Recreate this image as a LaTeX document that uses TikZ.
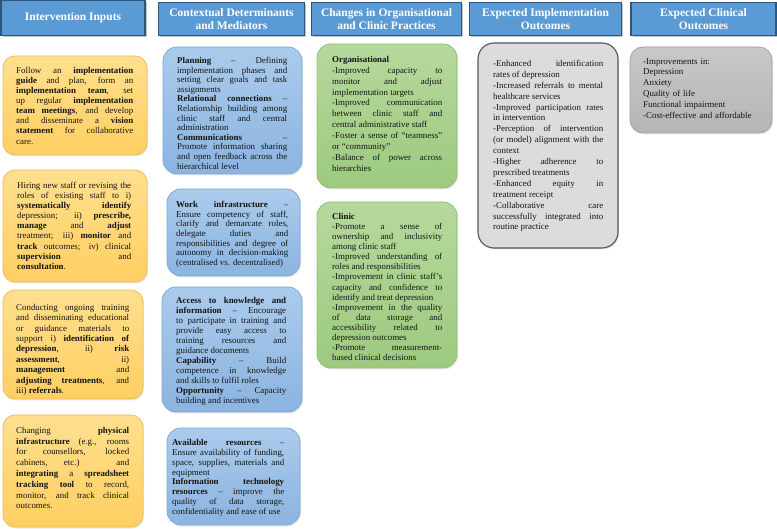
\documentclass[tikz,border=0pt]{standalone}
\usepackage{fontspec}
\setmainfont{Liberation Serif}
\usetikzlibrary{fit,shadows}
\setlength{\parindent}{0pt}
\definecolor{hdrfill}{HTML}{5B9BD5}
\definecolor{hdrborder}{HTML}{2C5680}
\definecolor{otop}{HTML}{FFDF8E}
\definecolor{obot}{HTML}{FFCF62}
\definecolor{oborder}{HTML}{F4BC55}
\definecolor{btop}{HTML}{ABCBEC}
\definecolor{bbot}{HTML}{8BB4E0}
\definecolor{bborder}{HTML}{80A9D6}
\definecolor{gtop}{HTML}{B6D99D}
\definecolor{gbot}{HTML}{9DCA7F}
\definecolor{gborder}{HTML}{8CBF74}
\definecolor{grayfill}{HTML}{DCDCDC}
\definecolor{grayborder}{HTML}{555555}
\definecolor{gtop5}{HTML}{C8C8C8}
\definecolor{gbot5}{HTML}{B5B5B5}
\definecolor{gborder5}{HTML}{A2A2A2}
\definecolor{txtc}{HTML}{141414}
\tikzset{
  x=1pt, y=-1pt,
  hdr/.style={draw=hdrborder, fill=hdrfill, line width=1.2pt, text=white,
    font=\fontsize{11.5}{13.5}\selectfont\bfseries, align=center, inner sep=0pt,
    drop shadow={shadow xshift=1.5pt, shadow yshift=-1.5pt, opacity=0.45}},
  boxbase/.style={inner sep=0pt, line width=0.8pt,
    drop shadow={shadow xshift=1.2pt, shadow yshift=-1.5pt, opacity=0.18}},
  obox/.style={boxbase, rounded corners=12pt, draw=oborder, top color=otop, bottom color=obot},
  bbox/.style={boxbase, rounded corners=14pt, draw=bborder, top color=btop, bottom color=bbot},
  gbox/.style={boxbase, rounded corners=14pt, draw=gborder, top color=gtop, bottom color=gbot},
  graybox/.style={boxbase, rounded corners=16pt, draw=grayborder, line width=1.1pt, fill=grayfill},
  graybox5/.style={boxbase, rounded corners=13pt, draw=gborder5, top color=gtop5, bottom color=gbot5},
  txt/.style={anchor=north west, inner sep=0pt, text width=#1, align=justify, text=txtc},
  body/.style={font=\fontsize{8.9}{#1}\selectfont},
}
\begin{document}
\begin{tikzpicture}
\useasboundingbox (0,0) rectangle (777,529);
\fill[white] (0,0) rectangle (777,529);

% headers
\node[hdr, minimum width=144pt, minimum height=35pt] (h1) at (73,18) {\raisebox{3pt}{Intervention Inputs}};
\node[hdr, minimum width=146pt, minimum height=33pt] (h2) at (231.5,19) {Contextual Determinants\\and Mediators};
\node[hdr, minimum width=150pt, minimum height=33pt] (h3) at (386.5,19) {Changes in Organisational\\and Clinic Practices};
\node[hdr, minimum width=152pt, minimum height=33pt] (h4) at (545.5,19) {Expected Implementation\\Outcomes};
\node[hdr, minimum width=145pt, minimum height=33pt] (h5) at (703.5,19) {Expected Clinical\\Outcomes};

% column 1
\node[obox, fit={(3,56) (147,155)}] (b1a) {};
\node[obox, fit={(3,170) (147,282)}] (b1b) {};
\node[obox, fit={(3,290) (143,399)}] (b1c) {};
\node[obox, fit={(3,415) (143,527)}] (b1d) {};

\node[txt=117pt, body=10.1] (t1a) at (16,67) {Follow an \textbf{implementation}\linebreak
\textbf{guide} and plan, form an\linebreak
\textbf{implementation team}, set\linebreak
up regular \textbf{implementation}\linebreak
\textbf{team meetings}, and develop\linebreak
and disseminate a \textbf{vision}\linebreak
\textbf{statement} for collaborative\linebreak
care.};

\node[txt=114pt, body=10.1] (t1b) at (17,182) {Hiring new staff or revising the\linebreak
roles of existing staff to i)\linebreak
\textbf{systematically identify}\linebreak
depression; ii) \textbf{prescribe,}\linebreak
\textbf{manage} and \textbf{adjust}\linebreak
treatment; iii) \textbf{monitor} and\linebreak
\textbf{track} outcomes; iv) clinical\linebreak
\textbf{supervision} and\linebreak
\textbf{consultation}.};

\node[txt=113pt, body=10.4] (t1c) at (16,304) {Conducting ongoing training\linebreak
and disseminating educational\linebreak
or guidance materials to\linebreak
support i) \textbf{identification of}\linebreak
\textbf{depression}, ii) \textbf{risk}\linebreak
\textbf{assessment}, ii)\linebreak
\textbf{management} and\linebreak
\textbf{adjusting treatments}, and\linebreak
iii) \textbf{referrals}.};

\node[txt=113pt, body=10.8] (t1d) at (16,427) {Changing \textbf{physical}\linebreak
\textbf{infrastructure} (e.g., rooms\linebreak
for counsellors, locked\linebreak
cabinets, etc.) and\linebreak
\textbf{integrating} a \textbf{spreadsheet}\linebreak
\textbf{tracking tool} to record,\linebreak
monitor, and track clinical\linebreak
outcomes.};

% column 2
\node[bbox, fit={(163,47) (302,174)}] (b2a) {};
\node[bbox, fit={(167,189) (300,276)}] (b2b) {};
\node[bbox, fit={(162,287) (302,412)}] (b2c) {};
\node[bbox, fit={(167,428) (300,525)}] (b2d) {};

\node[txt=110pt, body=9.6] (t2a) at (177,57) {\textbf{Planning} – Defining\linebreak
implementation phases and\linebreak
setting clear goals and task\linebreak
assignments\par
\textbf{Relational connections} –\linebreak
Relationship building among\linebreak
clinic staff and central\linebreak
administration\par
\textbf{Communications} –\linebreak
Promote information sharing\linebreak
and open feedback across the\linebreak
hierarchical level};

\node[txt=112pt, body=9.7] (t2b) at (176,201) {\textbf{Work infrastructure} –\linebreak
Ensure competency of staff,\linebreak
clarify and demarcate roles,\linebreak
delegate duties and\linebreak
responsibilities and degree of\linebreak
autonomy in decision-making\linebreak
(centralised vs. decentralised)};

\node[txt=110pt, body=10] (t2c) at (176,297) {\textbf{Access to knowledge and}\linebreak
\textbf{information} – Encourage\linebreak
to participate in training and\linebreak
provide easy access to\linebreak
training resources and\linebreak
guidance documents\par
\textbf{Capability} – Build\linebreak
competence in knowledge\linebreak
and skills to fulfil roles\par
\textbf{Opportunity} – Capacity\linebreak
building and incentives};

\node[txt=112pt, body=9.9] (t2d) at (172,439) {\textbf{Available resources} –\linebreak
Ensure availability of funding,\linebreak
space, supplies, materials and\linebreak
equipment\par
\textbf{Information technology}\linebreak
\textbf{resources} – improve the\linebreak
quality of data storage,\linebreak
confidentiality and ease of use};

% column 3
\node[gbox, fit={(317,44) (457,188)}] (b3a) {};
\node[gbox, fit={(317,202) (457,368)}] (b3b) {};

\node[txt=110pt, body=10.9] (t3a) at (332,56) {\textbf{Organisational}\par
-Improved capacity to\linebreak
monitor and adjust\linebreak
implementation targets\par
-Improved communication\linebreak
between clinic staff and\linebreak
central administrative staff\par
-Foster a sense of “teamness”\linebreak
or “community”\par
-Balance of power across\linebreak
hierarchies};

\node[txt=110pt, body=10.1] (t3b) at (332,213) {\textbf{Clinic}\par
-Promote a sense of\linebreak
ownership and inclusivity\linebreak
among clinic staff\par
-Improved understanding of\linebreak
roles and responsibilities\par
-Improvement in clinic staff’s\linebreak
capacity and confidence to\linebreak
identify and treat depression\par
-Improvement in the quality\linebreak
of data storage and\linebreak
accessibility related to\linebreak
depression outcomes\par
-Promote measurement-\linebreak
based clinical decisions};

% column 4 and 5
\node[graybox, fit={(478,43) (618,248)}] (b4) {};
\node[graybox5, fit={(630,47) (772,133)}] (b5) {};

\node[txt=110pt, body=10.9] (t4) at (493,60) {-Enhanced identification\linebreak
rates of depression\par
-Increased referrals to mental\linebreak
healthcare services\par
-Improved participation rates\linebreak
in intervention\par
-Perception of intervention\linebreak
(or model) alignment with the\linebreak
context\par
-Higher adherence to\linebreak
prescribed treatments\par
-Enhanced equity in\linebreak
treatment receipt\par
-Collaborative care\linebreak
successfully integrated into\linebreak
routine practice};

\node[anchor=north west, inner sep=0pt, text width=124pt, align=left, text=txtc, body=10.9] (t5) at (643,58) {-Improvements in:\\
Depression\\
Anxiety\\
Quality of life\\
Functional impairment\\
-Cost-effective and affordable};
\end{tikzpicture}
\end{document}
